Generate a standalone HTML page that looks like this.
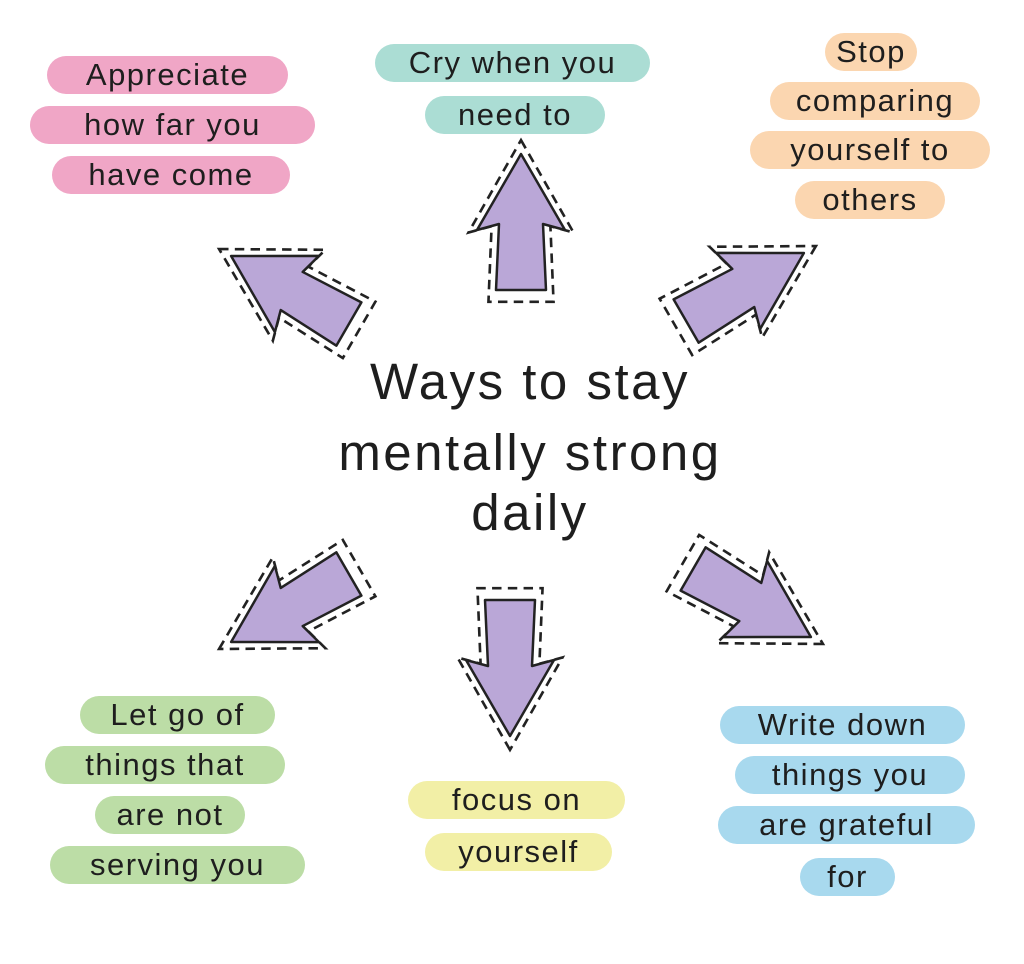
<!DOCTYPE html>
<html><head><meta charset="utf-8"><style>
html,body{margin:0;padding:0;background:#fff;}
body{width:1024px;height:964px;position:relative;overflow:hidden;font-family:"Liberation Sans",sans-serif;color:#1e1e1e;}
.p{position:absolute;height:38px;border-radius:19px;text-align:center;line-height:38px;font-size:31px;letter-spacing:1.5px;}
.pk{background:#f0a6c6}.tl{background:#abddd4}.or{background:#fbd6b0}.gr{background:#bcdda6}.yl{background:#f2efa6}.bl{background:#a8d9ee}
.c{position:absolute;left:0;width:1060px;text-align:center;font-size:51px;letter-spacing:2.5px;}
svg{position:absolute;left:0;top:0;}
</style></head><body>
<svg width="1024" height="964">
<defs>
<g id="ar">
<polygon points="0,-78 50,10 28,4 31,76 -31,76 -28,4 -50,10" fill="none" stroke="#222" stroke-width="2.5" stroke-dasharray="9,6" transform="scale(1.05)"/>
<polygon points="0,-68 44,8 22,2 25,68 -25,68 -22,2 -44,8" fill="#baa7d7" stroke="#222" stroke-width="2.5" stroke-linejoin="round"/>
</g>
</defs>
<use href="#ar" transform="translate(521,222)"/>
<use href="#ar" transform="translate(290,290) rotate(-60)"/>
<use href="#ar" transform="translate(745,287) rotate(60)"/>
<use href="#ar" transform="translate(290,608) rotate(-120)"/>
<use href="#ar" transform="translate(510,668) rotate(180)"/>
<use href="#ar" transform="translate(752,603) rotate(120)"/>
</svg>

<div class="p pk" style="left:47px;width:241px;top:56px">Appreciate</div>
<div class="p pk" style="left:30px;width:285px;top:106px">how far you</div>
<div class="p pk" style="left:52px;width:238px;top:156px">have come</div>

<div class="p tl" style="left:375px;width:275px;top:44px">Cry when you</div>
<div class="p tl" style="left:425px;width:180px;top:96px">need to</div>

<div class="p or" style="left:825px;width:92px;top:33px">Stop</div>
<div class="p or" style="left:770px;width:210px;top:82px">comparing</div>
<div class="p or" style="left:750px;width:240px;top:131px">yourself to</div>
<div class="p or" style="left:795px;width:150px;top:181px">others</div>

<div class="c" style="top:352px">Ways to stay</div>
<div class="c" style="top:423px">mentally strong</div>
<div class="c" style="top:483px">daily</div>

<div class="p gr" style="left:80px;width:195px;top:696px">Let go of</div>
<div class="p gr" style="left:45px;width:240px;top:746px">things that</div>
<div class="p gr" style="left:95px;width:150px;top:796px">are not</div>
<div class="p gr" style="left:50px;width:255px;top:846px">serving you</div>

<div class="p yl" style="left:408px;width:217px;top:781px">focus on</div>
<div class="p yl" style="left:425px;width:187px;top:833px">yourself</div>

<div class="p bl" style="left:720px;width:245px;top:706px">Write down</div>
<div class="p bl" style="left:735px;width:230px;top:756px">things you</div>
<div class="p bl" style="left:718px;width:257px;top:806px">are grateful</div>
<div class="p bl" style="left:800px;width:95px;top:858px">for</div>
</body></html>
